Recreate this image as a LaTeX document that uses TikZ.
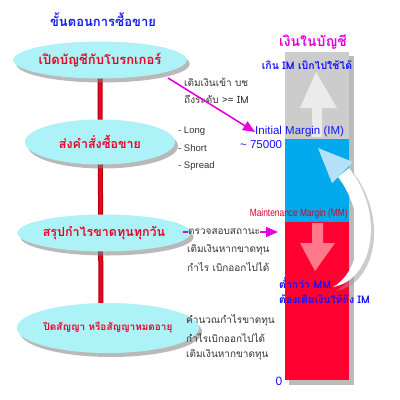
\documentclass[tikz,border=0pt]{standalone}
\usepackage{fontspec}
\setmainfont{Liberation Sans}
\newfontfamily\thai[Script=Thai]{Loma}
\usetikzlibrary{shadows,backgrounds,arrows.meta,shapes.geometric}
\definecolor{ellC}{RGB}{172,242,246}
\definecolor{stepred}{RGB}{238,0,40}
\definecolor{titleblue}{RGB}{20,30,230}
\definecolor{magent}{RGB}{230,0,220}
\definecolor{colgray}{RGB}{204,204,204}
\definecolor{colblue}{RGB}{0,170,236}
\definecolor{colred}{RGB}{255,0,48}
\definecolor{txtblue}{RGB}{20,20,255}
\definecolor{arrpink}{RGB}{255,120,140}
\definecolor{headblue}{RGB}{180,225,248}
\tikzset{
  stepell/.style 2 args={ellipse, minimum width=#1, minimum height=#2, inner sep=0pt, fill=ellC, draw=none,
     drop shadow={shadow xshift=3pt, shadow yshift=-4pt, fill=black!50, opacity=0.55},
     font=\thai\bfseries\fontsize{12.5}{14}\selectfont, text=stepred},
  note/.style={font=\thai\fontsize{10}{12}\selectfont, text=black!80, anchor=west, inner sep=0pt},
  bluelab/.style={font=\thai\bfseries\fontsize{10.5}{12}\selectfont, text=txtblue, inner sep=0pt},
  magarrow/.style={draw=magent, line width=1.6pt, -{Triangle[length=12pt,width=10pt]}},
}
\begin{document}
\begin{tikzpicture}[x=1pt,y=-1pt]
\useasboundingbox (0,0) rectangle (400,400);
% title
\node[font=\thai\bfseries\fontsize{13}{15}\selectfont, text=titleblue] (title) at (103,20) {ขั้นตอนการซื้อขาย};
% steps
\node[stepell={155pt}{37pt}, font=\thai\bfseries\fontsize{13}{15}\selectfont] (e1) at (100,60) {เปิดบัญชีกับโบรกเกอร์};
\node[stepell={150pt}{45pt}] (e2) at (100,142) {ส่งคำสั่งซื้อขาย};
\node[stepell={145pt}{37pt}] (e3) at (104,233) {สรุปกำไรขาดทุนทุกวัน};
\node[stepell={150pt}{50pt}, font=\thai\bfseries\fontsize{10}{12}\selectfont] (e4) at (108,328) {ปิดสัญญา หรือสัญญาหมดอายุ};
\begin{scope}[on background layer]
  \draw[line width=5pt, draw=red!70!black] (e1.center) -- (101,328);
  \draw[line width=3pt, draw=stepred] (e1.center) -- (101,328);
\end{scope}
% column shadow
\fill[black!45, opacity=0.6] (289,56) rectangle (354,385);
\fill[colgray] (285,52) rectangle (349,139);
\fill[colblue] (285,139) rectangle (349,222);
\fill[colred] (285,222) rectangle (349,380);
\node[font=\thai\bfseries\fontsize{14}{16}\selectfont, text=magent] (coltitle) at (313,42) {เงินในบัญชี};
% up arrow
\fill[black!8] (312,137) -- (312,108) -- (300,108) -- (316,72) -- (337,108) -- (322,108) -- (322,137) -- cycle;
% down arrow
\fill[arrpink] (312,223) -- (323,223) -- (323,243) -- (335,243) -- (315,271) -- (300,243) -- (312,243) -- cycle;
% labels on column
\node[bluelab] (over) at (307,65) {เกิน IM เบิกไปใช้ได้};
\node[font=\fontsize{11.5}{13}\selectfont, text=txtblue, anchor=west, inner sep=0pt] (im) at (255,132) {Initial Margin (IM)};
\node[font=\fontsize{11.5}{13}\selectfont, text=txtblue, anchor=west, inner sep=0pt] (imval) at (240,145) {\textasciitilde{} 75000};
\node[font=\fontsize{10.5}{12}\selectfont, text=colred!85!black, anchor=east, inner sep=0pt] (mm) at (348,214) {\scalebox{0.8}[1]{Maintenance Margin (MM)}};
\node[bluelab, anchor=west] (low1) at (279,283) {ต่ำกว่า MM};
\node[bluelab, anchor=west] (low2) at (279,299) {ต้องเติมเงินให้ถึง IM};
\node[font=\fontsize{12}{13}\selectfont, text=txtblue, inner sep=0pt] (zero) at (279,381) {0};
% curved arrow
\fill[black!40, opacity=0.5] (336,291) .. controls (376,284) and (389,219) .. (353,172) -- (342,181) .. controls (370,219) and (366,274) .. (336,291) -- cycle;
\fill[white] (333,287) .. controls (373,280) and (386,215) .. (349,168) -- (338,177) .. controls (367,215) and (363,270) .. (333,287) -- cycle;
\fill[headblue] (318,148) -- (353,162) -- (332,183) -- cycle;
% notes
\node[note] (n1) at (184,82) {เติมเงินเข้า บช};
\node[note] (n2) at (184,99) {ถึงระดับ >= IM};
\coordinate (a1s) at (168,78);
\draw[magarrow] (a1s) -- (im.west);
\node[note, font=\fontsize{9.5}{11}\selectfont] (l1) at (178,131) {- Long};
\node[note, font=\fontsize{9.5}{11}\selectfont] (l2) at (178,148) {- Short};
\node[note, font=\fontsize{9.5}{11}\selectfont] (l3) at (178,166) {- Spread};
\node[note] (c1) at (188,232) {ตรวจสอบสถานะ};
\coordinate (c1d) at (183,232);
\draw[draw=magent, line width=1.2pt] (c1d) -- (c1.west);
\coordinate (c1e) at (278,232);
\draw[magarrow] (c1.east) -- (c1e);
\node[note] (c2) at (187,250) {เติมเงินหากขาดทุน};
\node[note] (c3) at (187,267) {กำไร เบิกออกไปได้};
\node[note] (d1) at (186,320) {คำนวณกำไรขาดทุน};
\node[note] (d2) at (186,338) {กำไรเบิกออกไปได้};
\node[note] (d3) at (186,355) {เติมเงินหากขาดทุน};
\end{tikzpicture}
\end{document}
